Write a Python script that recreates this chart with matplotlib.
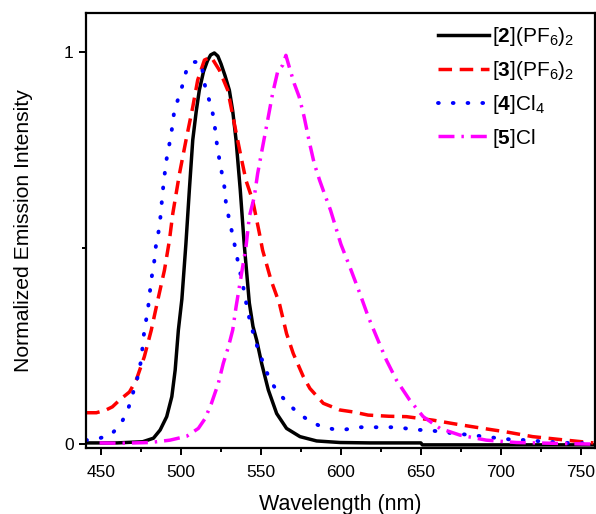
import numpy as np
import matplotlib.pyplot as plt
from matplotlib.ticker import MultipleLocator, FixedLocator, FuncFormatter

plt.rcParams['font.family'] = ['Liberation Sans', 'DejaVu Sans']
plt.rcParams['mathtext.fontset'] = 'custom'
plt.rcParams['mathtext.rm'] = 'Liberation Sans'
plt.rcParams['mathtext.bf'] = 'Liberation Sans:bold'

# emission spectra (wavelength nm, normalized intensity)
x2 = [440, 460, 476, 482.7, 486.9, 491, 494.2, 496.3, 498.3, 500.5, 503, 505.2, 507.3,
      509.5, 511.4, 514, 516.5, 518.5, 520.8, 523, 525, 527.5, 530.2, 532.3, 534.4, 537,
      539.5, 542.7, 545, 547.3, 550.4, 554.6, 559.8, 566, 574.4, 584.8, 599.4, 618, 650,
      651, 700, 759]
y2 = [0.003, 0.003, 0.006, 0.015, 0.036, 0.07, 0.121, 0.189, 0.291, 0.37, 0.51, 0.65, 0.776,
      0.85, 0.903, 0.95, 0.978, 0.993, 0.998, 0.99, 0.97, 0.94, 0.903, 0.85, 0.776, 0.65,
      0.51, 0.36, 0.30, 0.265, 0.206, 0.138, 0.078, 0.04, 0.019, 0.008, 0.004, 0.003, 0.003,
      -0.002, -0.002, -0.002]

x3 = [440.6, 447, 453, 457, 461.4, 467.7, 471.9, 477, 481.3, 485.4, 489.6, 492.7, 494.8,
      499, 503.1, 507.3, 510.4, 514.6, 518.8, 524, 529.2, 533.3, 537.5, 540.6, 544.8, 549,
      551, 556.3, 561.5, 566, 570.2, 576.5, 580.6, 589, 599.4, 607.7, 617, 630, 641, 657.7,
      672, 689, 703.5, 720, 741, 758]
y3 = [0.08, 0.08, 0.087, 0.095, 0.112, 0.133, 0.163, 0.223, 0.29, 0.367, 0.444, 0.52, 0.588,
      0.69, 0.776, 0.86, 0.929, 0.98, 0.988, 0.954, 0.903, 0.818, 0.733, 0.673, 0.622, 0.538,
      0.495, 0.418, 0.359, 0.282, 0.231, 0.172, 0.142, 0.104, 0.087, 0.082, 0.074, 0.071,
      0.07, 0.061, 0.051, 0.04, 0.031, 0.019, 0.01, 0.003]

x4 = [440.6, 449, 456, 462.5, 466.7, 469.8, 472.9, 475, 477, 479.2, 481.3, 483.3, 484.4,
      486.5, 488.6, 490.6, 493.8, 495.8, 500, 503.1, 507.3, 512.5, 515.6, 518.8, 520.8,
      521.9, 523.5, 525, 527.1, 528.1, 530.2, 532.3, 534.4, 536.4, 538.5, 540.6, 542.7,
      545.2, 548.3, 551.5, 555.6, 560.8, 566, 572.3, 579.6, 586.9, 595.2, 602.5, 610.8,
      622.3, 634.8, 646.3, 657.7, 671.3, 681.7, 694.2, 705.6, 716, 728.5, 741, 753.5, 759]
y4 = [0.01, 0.015, 0.023, 0.053, 0.087, 0.129, 0.172, 0.214, 0.29, 0.342, 0.418, 0.469, 0.512,
      0.554, 0.648, 0.72, 0.79, 0.852, 0.903, 0.95, 0.975, 0.975, 0.899, 0.865, 0.822,
      0.78, 0.737, 0.703, 0.656, 0.614, 0.571, 0.533, 0.49, 0.448, 0.41, 0.363, 0.321,
      0.282, 0.24, 0.206, 0.163, 0.131, 0.108, 0.082, 0.061, 0.046, 0.038, 0.037, 0.043,
      0.043, 0.043, 0.037, 0.034, 0.027, 0.023, 0.017, 0.012, 0.01, 0.006, 0.003, 0.002, 0.002]

x5 = [449, 461.4, 480.6, 493, 503.5, 510.8, 515, 519, 523.3, 526.4, 529.6, 532.3, 534.4,
      537.5, 540.6, 542.7, 545.8, 547.9, 551, 554.2, 557.3, 560.4, 563.6, 565.6, 567.7,
      570.8, 573.9, 577, 580.4, 583.3, 586.7, 589.6, 593.5, 600, 605.6, 611.9, 617.1, 622.3,
      628.5, 634.8, 643.1, 651.5, 662, 674.4, 691, 709.8, 732.7, 757.7]
y5 = [0.003, 0.002, 0.004, 0.01, 0.02, 0.04, 0.065, 0.104, 0.155, 0.206, 0.248, 0.291, 0.35,
      0.427, 0.503, 0.58, 0.631, 0.69, 0.758, 0.827, 0.895, 0.95, 0.967, 0.992, 0.962,
      0.92, 0.886, 0.835, 0.768, 0.716, 0.673, 0.64, 0.597, 0.51, 0.452, 0.384, 0.325, 0.274,
      0.214, 0.163, 0.112, 0.07, 0.04, 0.023, 0.01, 0.004, 0.002, 0.0]

labels = [r'[$\mathbf{2}$](PF$_6$)$_2$', r'[$\mathbf{3}$](PF$_6$)$_2$',
          r'[$\mathbf{4}$]Cl$_4$', r'[$\mathbf{5}$]Cl']

fig = plt.figure(figsize=(5.96, 5.14), dpi=100)
ax = fig.add_axes([0.1443, 0.1284, 0.854, 0.8463])

ax.plot(x2, y2, color='black', lw=2.5, label=labels[0])
ax.plot(x3, y3, color='#ff0000', lw=2.5, dashes=(3.9, 2.2), label=labels[1])
ax.plot(x4, y4, color='#0000ff', lw=2.8, dashes=(0.2, 3.6), dash_capstyle='round',
        label=labels[2])
ax.plot(x5, y5, color='#ff00ff', lw=2.5, dashes=(4.6, 2.0, 0.7, 2.0), label=labels[3])

ax.set_xlim(440.5, 759)
ax.set_ylim(-0.01, 1.1)
ax.xaxis.set_major_locator(MultipleLocator(50))
ax.xaxis.set_minor_locator(MultipleLocator(25))
ax.yaxis.set_major_locator(FixedLocator([0, 1]))
ax.yaxis.set_minor_locator(FixedLocator([0.5]))
ax.yaxis.set_major_formatter(FuncFormatter(lambda v, p: '%d' % v))

ax.tick_params(which='both', direction='out', width=1.4, labelsize=12.5)
ax.tick_params(axis='x', pad=7)
ax.tick_params(axis='y', pad=4)
ax.tick_params(which='major', length=5)
ax.tick_params(which='minor', length=3)
for s in ax.spines.values():
    s.set_linewidth(1.6)

ax.set_xlabel('Wavelength (nm)', fontsize=15.5, labelpad=10)
ax.set_ylabel('Normalized Emission Intensity', fontsize=15.2, labelpad=22)

ax.legend(loc='upper left', bbox_to_anchor=(0.6916, 0.972), frameon=False, fontsize=15,
          handlelength=2.45, handletextpad=0.15, labelspacing=0.52, borderaxespad=0,
          borderpad=0)

fig.savefig('out.png', dpi=100)
